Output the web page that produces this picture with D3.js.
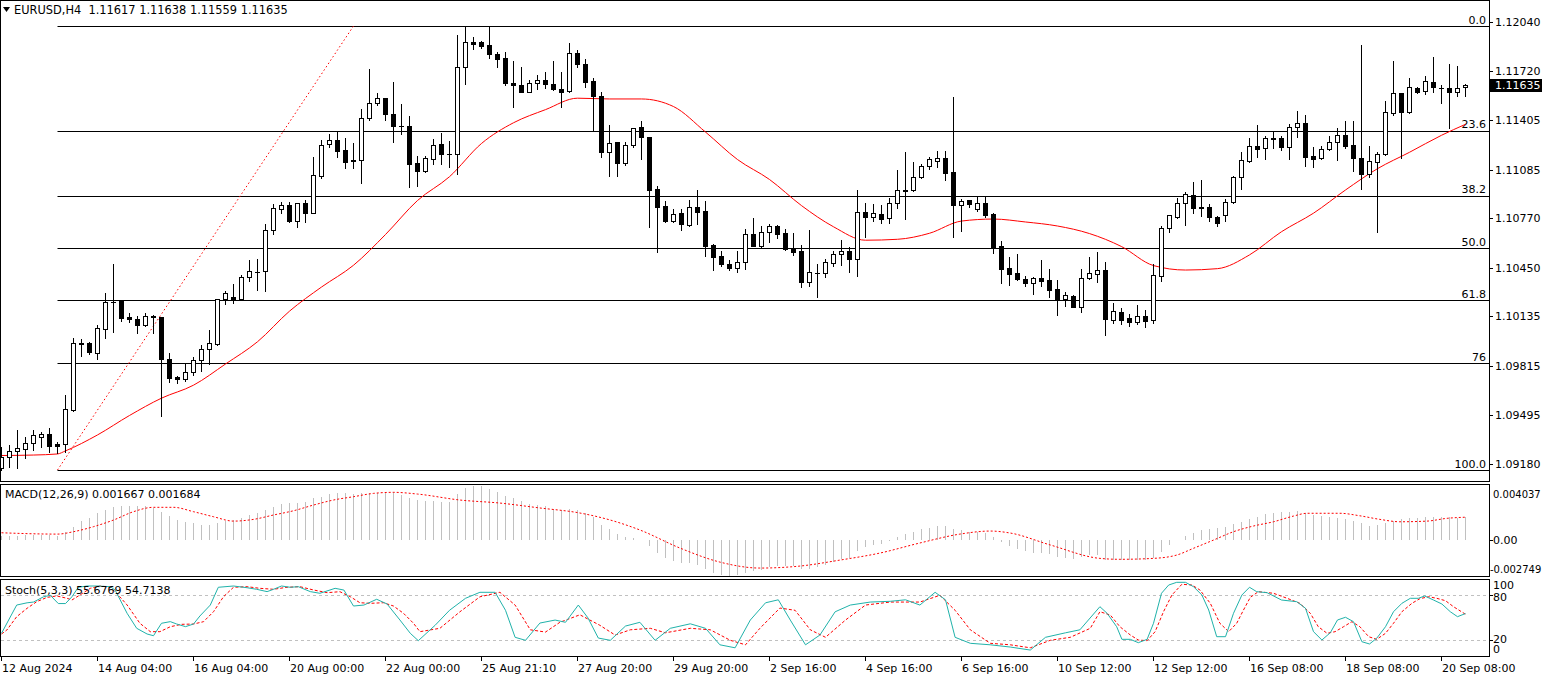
<!DOCTYPE html>
<html><head><meta charset="utf-8">
<script src="https://cdn.jsdelivr.net/npm/d3@7"></script>
<style>
body{margin:0;background:#fff;overflow:hidden;}
svg{display:block;font-family:"DejaVu Sans",sans-serif;font-size:11px;}
</style>
</head><body>
<svg id="c" width="1542" height="676"></svg>
<script>
// ---------------- DATA ----------------
const symbol = "EURUSD,H4";
const headerValues = ["1.11617", "1.11638", "1.11559", "1.11635"];

const open = [
1.09154,1.09223,1.09262,1.09279,1.09318,1.09357,1.09374,1.09309,1.09307,1.09529,
1.09961,1.09961,1.09896,1.10055,1.10230,1.10235,1.10131,1.10116,1.10081,1.10136,
1.10129,1.09857,1.09743,1.09728,1.09773,1.09851,1.09922,1.09958,1.10245,1.10258,
1.10245,1.10388,1.10424,1.10427,1.10692,1.10832,1.10854,1.10754,1.10867,1.10806,
1.11045,1.11248,1.11274,1.11212,1.11147,1.11145,1.11417,1.11514,1.11546,1.11444,
1.11367,1.11367,1.11125,1.11078,1.11155,1.11250,1.11188,1.11184,1.11747,1.11910,
1.11908,1.11891,1.11831,1.11809,1.11645,1.11630,1.11589,1.11643,1.11662,1.11637,
1.11606,1.11595,1.11837,1.11766,1.11658,1.11561,1.11201,1.11261,1.11129,1.11242,
1.11358,1.11294,1.10957,1.10847,1.10754,1.10802,1.10728,1.10841,1.10817,1.10595,
1.10526,1.10474,1.10446,1.10485,1.10666,1.10590,1.10679,1.10720,1.10673,1.10575,
1.10558,1.10359,1.10418,1.10418,1.10478,1.10537,1.10558,1.10504,1.10808,1.10780,
1.10797,1.10770,1.10867,1.10951,1.10951,1.11035,1.11110,1.11142,1.11158,1.11069,
1.10854,1.10888,1.10830,1.10867,1.10797,1.10590,1.10446,1.10416,1.10375,1.10349,
1.10381,1.10369,1.10310,1.10249,1.10267,1.10198,1.10385,1.10411,1.10433,1.10110,
1.10163,1.10125,1.10099,1.10138,1.10112,1.10398,1.10705,1.10780,1.10867,1.10918,
1.10841,1.10841,1.10776,1.10789,1.10873,1.11035,1.11142,1.11237,1.11223,1.11287,
1.11287,1.11233,1.11358,1.11384,1.11173,1.11158,1.11218,1.11261,1.11309,1.11244,
1.11158,1.11054,1.11136,1.11186,1.11451,1.11578,1.11459,1.11611,1.11593,1.11650,
1.11615,1.11615,1.11585,1.11617];
const high = [
1.09290,1.09301,1.09400,1.09353,1.09400,1.09389,1.09411,1.09324,1.09626,1.09993,
1.09987,1.09971,1.10079,1.10284,1.10474,1.10241,1.10155,1.10138,1.10155,1.10144,
1.10133,1.09896,1.09749,1.09831,1.09874,1.09950,1.10047,1.10245,1.10299,1.10345,
1.10403,1.10500,1.10504,1.10733,1.10862,1.10873,1.10873,1.10867,1.10888,1.11166,
1.11274,1.11315,1.11333,1.11287,1.11257,1.11475,1.11734,1.11578,1.11550,1.11653,
1.11507,1.11433,1.11173,1.11175,1.11283,1.11320,1.11270,1.11956,1.12012,1.11941,
1.11919,1.12012,1.11848,1.11844,1.11787,1.11749,1.11664,1.11697,1.11718,1.11787,
1.11714,1.11902,1.11859,1.11800,1.11675,1.11589,1.11373,1.11261,1.11261,1.11356,
1.11399,1.11294,1.10981,1.10882,1.10830,1.10830,1.10888,1.10953,1.10882,1.10601,
1.10558,1.10500,1.10558,1.10698,1.10770,1.10720,1.10733,1.10728,1.10702,1.10673,
1.10597,1.10694,1.10474,1.10506,1.10558,1.10629,1.10586,1.10953,1.10871,1.10862,
1.10856,1.10899,1.11082,1.11197,1.11132,1.11121,1.11168,1.11205,1.11205,1.11556,
1.10895,1.10888,1.10905,1.10909,1.10806,1.10623,1.10517,1.10539,1.10396,1.10388,
1.10500,1.10442,1.10370,1.10293,1.10273,1.10440,1.10517,1.10550,1.10485,1.10220,
1.10189,1.10150,1.10209,1.10176,1.10474,1.10720,1.10789,1.10903,1.10938,1.11006,
1.11017,1.10862,1.10785,1.10895,1.11043,1.11199,1.11289,1.11375,1.11302,1.11328,
1.11302,1.11380,1.11464,1.11438,1.11231,1.11237,1.11302,1.11352,1.11399,1.11399,
1.11891,1.11237,1.11197,1.11529,1.11787,1.11578,1.11679,1.11621,1.11692,1.11811,
1.11632,1.11766,1.11755,1.11638];
const low = [
1.09141,1.09162,1.09152,1.09217,1.09271,1.09292,1.09260,1.09249,1.09260,1.09525,
1.09879,1.09892,1.09859,1.09993,1.10036,1.10107,1.10097,1.10029,1.10073,1.10029,
1.09492,1.09712,1.09706,1.09719,1.09756,1.09784,1.09825,1.09950,1.10217,1.10224,
1.10241,1.10366,1.10306,1.10301,1.10670,1.10806,1.10746,1.10715,1.10746,1.10802,
1.11032,1.11233,1.11168,1.11097,1.11097,1.11000,1.11406,1.11503,1.11404,1.11265,
1.11317,1.10972,1.10981,1.11071,1.11123,1.11123,1.11103,1.11054,1.11637,1.11865,
1.11870,1.11809,1.11751,1.11632,1.11492,1.11585,1.11585,1.11606,1.11611,1.11600,
1.11492,1.11589,1.11751,1.11621,1.11341,1.11168,1.11045,1.11045,1.11114,1.11231,
1.11153,1.10715,1.10554,1.10744,1.10748,1.10694,1.10722,1.10733,1.10528,1.10435,
1.10463,1.10435,1.10420,1.10440,1.10592,1.10575,1.10618,1.10644,1.10565,1.10532,
1.10327,1.10334,1.10262,1.10392,1.10463,1.10467,1.10424,1.10398,1.10651,1.10754,
1.10741,1.10741,1.10838,1.10763,1.10946,1.11030,1.11089,1.11103,1.11017,1.10651,
1.10689,1.10845,1.10819,1.10780,1.10547,1.10353,1.10338,1.10370,1.10332,1.10280,
1.10332,1.10262,1.10144,1.10204,1.10194,1.10165,1.10377,1.10359,1.10015,1.10090,
1.10086,1.10073,1.10086,1.10066,1.10092,1.10364,1.10683,1.10774,1.10726,1.10806,
1.10786,1.10754,1.10720,1.10754,1.10867,1.10957,1.11134,1.11164,1.11155,1.11226,
1.11212,1.11155,1.11298,1.11110,1.11103,1.11153,1.11212,1.11147,1.11223,1.11076,
1.10959,1.11039,1.10683,1.11179,1.11438,1.11162,1.11449,1.11578,1.11572,1.11589,
1.11518,1.11356,1.11563,1.11559];
const close = [
1.09225,1.09262,1.09281,1.09314,1.09366,1.09374,1.09298,1.09298,1.09534,1.09961,
1.09958,1.09903,1.10058,1.10230,1.10227,1.10126,1.10116,1.10079,1.10136,1.10133,
1.09857,1.09738,1.09728,1.09773,1.09853,1.09922,1.09961,1.10245,1.10284,1.10245,
1.10388,1.10427,1.10422,1.10692,1.10834,1.10854,1.10754,1.10867,1.10806,1.11048,
1.11242,1.11274,1.11207,1.11136,1.11138,1.11417,1.11514,1.11546,1.11443,1.11369,
1.11364,1.11123,1.11078,1.11158,1.11244,1.11188,1.11185,1.11747,1.11908,1.11899,
1.11886,1.11831,1.11802,1.11647,1.11630,1.11589,1.11643,1.11662,1.11637,1.11604,
1.11589,1.11837,1.11766,1.11653,1.11561,1.11201,1.11255,1.11129,1.11244,1.11352,
1.11294,1.10955,1.10845,1.10754,1.10796,1.10733,1.10841,1.10812,1.10592,1.10521,
1.10476,1.10446,1.10485,1.10666,1.10592,1.10679,1.10720,1.10668,1.10571,1.10554,
1.10359,1.10420,1.10415,1.10485,1.10537,1.10558,1.10504,1.10808,1.10780,1.10802,
1.10767,1.10867,1.10951,1.10948,1.11035,1.11108,1.11151,1.11158,1.11065,1.10856,
1.10882,1.10860,1.10867,1.10791,1.10586,1.10442,1.10411,1.10377,1.10353,1.10381,
1.10366,1.10306,1.10249,1.10273,1.10198,1.10381,1.10414,1.10433,1.10120,1.10172,
1.10112,1.10099,1.10138,1.10105,1.10403,1.10705,1.10789,1.10867,1.10925,1.10838,
1.10838,1.10776,1.10741,1.10873,1.11035,1.11145,1.11237,1.11220,1.11287,1.11284,
1.11233,1.11358,1.11384,1.11168,1.11155,1.11216,1.11261,1.11309,1.11239,1.11158,
1.11054,1.11140,1.11186,1.11455,1.11578,1.11459,1.11617,1.11589,1.11658,1.11621,
1.11612,1.11585,1.11615,1.11635];

// moving average (red) read at bar indices
const maIdx = [0,4,7,8,12,16,20,24,28,32,36,40,44,48,52,56,60,64,68,72,76,80,84,88,92,96,100,104,108,112,116,120,124,128,132,136,140,144,148,152,156,160,164,168,172,176,180,183];
const maVal = [1.09235,1.09238,1.09245,1.09265,1.09368,1.09494,1.09606,1.09690,1.09827,1.09971,1.10169,1.10325,1.10466,1.10665,1.10885,1.11039,1.11254,1.11388,1.11473,1.11547,1.11542,1.11542,1.11493,1.11328,1.11150,1.11021,1.10852,1.10715,1.10628,1.10634,1.10673,1.10752,1.10765,1.10746,1.10720,1.10671,1.10587,1.10464,1.10435,1.10444,1.10533,1.10683,1.10803,1.10953,1.11091,1.11197,1.11307,1.11378];

// MACD(12,26,9) main histogram, one per bar
const macdHist = [
0.00030,0.00030,0.00030,0.00032,0.00034,0.00034,0.00032,0.00030,0.00059,0.00097,
0.00142,0.00164,0.00197,0.00222,0.00247,0.00253,0.00253,0.00253,0.00253,0.00235,
0.00210,0.00177,0.00147,0.00134,0.00122,0.00109,0.00109,0.00122,0.00139,0.00147,
0.00160,0.00185,0.00197,0.00222,0.00247,0.00268,0.00278,0.00278,0.00285,0.00311,
0.00323,0.00343,0.00348,0.00348,0.00343,0.00348,0.00348,0.00353,0.00360,0.00360,
0.00336,0.00311,0.00298,0.00290,0.00290,0.00280,0.00280,0.00340,0.00390,0.00404,
0.00400,0.00380,0.00360,0.00330,0.00310,0.00290,0.00270,0.00260,0.00250,0.00230,
0.00220,0.00230,0.00220,0.00200,0.00170,0.00110,0.00080,0.00040,0.00020,0.00010,
0.00000,-0.00050,-0.00100,-0.00140,-0.00160,-0.00180,-0.00180,-0.00190,-0.00220,-0.00250,
-0.00270,-0.00275,-0.00270,-0.00250,-0.00240,-0.00230,-0.00210,-0.00200,-0.00200,-0.00200,
-0.00220,-0.00220,-0.00210,-0.00190,-0.00170,-0.00150,-0.00140,-0.00090,-0.00060,-0.00040,
-0.00030,-0.00010,0.00020,0.00040,0.00060,0.00080,0.00090,0.00100,0.00100,0.00080,
0.00070,0.00060,0.00060,0.00050,0.00020,-0.00020,-0.00050,-0.00070,-0.00090,-0.00100,
-0.00100,-0.00110,-0.00130,-0.00140,-0.00150,-0.00130,-0.00120,-0.00120,-0.00155,-0.00155,
-0.00155,-0.00155,-0.00155,-0.00155,-0.00142,-0.00092,-0.00041,-0.00005,0.00026,0.00051,
0.00072,0.00077,0.00084,0.00097,0.00115,0.00134,0.00155,0.00167,0.00190,0.00202,
0.00205,0.00210,0.00215,0.00198,0.00185,0.00177,0.00172,0.00160,0.00152,0.00142,
0.00122,0.00102,0.00109,0.00122,0.00142,0.00152,0.00160,0.00164,0.00167,0.00172,
0.00172,0.00167,0.00164,0.001667];
// MACD signal line (red dotted), read at bar positions
const signalIdx = [0,7,9,11.5,14,16.5,19,21.5,24,26.5,29,31.5,34,36.5,39,41.5,44,46.5,49,52,57.3,62.3,67.3,72.3,76.1,79.8,84.8,89.8,94.8,99.8,104.8,109.8,114.8,119.8,123.6,126.1,131.1,137.3,139.8,144,146.9,149,151.5,154,156.5,159,161.5,163.2,167.3,169.8,172.3,174.8,178.2,180.7,183];
const signalVal = [0.00051,0.00041,0.00059,0.00097,0.00147,0.0021,0.00243,0.00243,0.0021,0.00172,0.00139,0.00152,0.00185,0.00217,0.0026,0.00298,0.00323,0.00348,0.00356,0.00343,0.00298,0.00275,0.00238,0.002,0.00147,0.00072,-0.00064,-0.0017,-0.00215,-0.002,-0.00155,-0.00102,-0.00026,0.00041,0.00064,0.00049,-0.00041,-0.00142,-0.00149,-0.00142,-0.00117,-0.00066,-0.00004,0.00059,0.00102,0.00134,0.00177,0.00198,0.00198,0.00179,0.00152,0.00134,0.00139,0.0016,0.001684];

// Stochastic(5,3,3)
const stochKIdx = [0,1.9,3.2,4,5.25,6.1,7.1,8,8.8,9.6,10.7,11.9,13.6,14.2,15.7,16.9,18.2,19,20,21.1,21.9,23,24,24.8,26.1,27.1,29,30.7,31.9,33.2,34,35,36.1,37.1,38.6,39.8,41.7,42.8,44,45.3,46.9,48.2,49.8,51.1,52.1,
54.2,56,58,59.8,61.7,63,64.2,65.5,67.3,69.2,70.5,72.1,73.3,74.6,76.1,78,79.8,81.7,83.6,86.1,88,89.8,91.7,93.6,95.5,97.1,98.6,100.5,102.3,104.2,106.1,108.6,111.1,113,114.8,116.7,118,119.2,121.1,123.6,126.1,128.6,130.5,133,134.8,
137.3,138.2,139.4,140.05,141.1,142.1,143.2,144,145,145.9,146.9,148,149,150.05,150.9,151.9,153,154,155.05,156,156.9,158.2,160,161.9,163,164,165.05,166.1,167,168,169,170.05,171,171.9,173,174,175.05,176.1,177.1,177.9,179,180.05,181.1,182,183];
const stochK = [29.3,67,70,71,78,80,69,69,78,90.7,92.4,92.4,91.5,87,56,36,28.4,26.1,42.7,44.9,41.7,38.2,41.7,52.4,67,90.7,92.4,90.1,88,84.9,88,92.4,90.7,91.5,84.9,82.7,89.3,87,65.7,67,74.7,68.4,47.1,29.3,19.5,
40,60,76,84,84,60,24,20,43,47,44,67,50,23,20,39,44,20,36,42,36,14,10,47,70,74,47,14,27,58,67,71,72,74,67,84,74,24,16,14,11,7,24,30,34,
64.8,56,38.1,21.3,21.3,16.8,21.3,42.7,82.7,93.7,97.3,97.3,91.5,80.4,60.4,24.8,24.8,56,80.4,90.7,84.8,83.5,73.7,71.5,62.7,31.5,20.4,30.1,47.1,50.7,44.8,18.1,15.1,22.7,38.1,58.1,69.3,76,76,79.1,73.7,68.4,58.1,51.5,55.68];
const stochDIdx = [0,0.67,1.9,3.2,4.4,5.7,6.9,8.2,8.8,9.8,11.1,12.3,13.6,14.4,15.7,17.3,18.6,19.8,21.1,22.5,24,25.25,26.5,27.75,29,30.7,32.3,34,35.7,37.3,39,40.7,42.3,43.6,44.8,46.1,47.75,49,50.25,51.5,52.3,
54.8,57.3,59.8,62.3,64.2,66.1,68,69.8,72.3,74.8,76.7,78.6,81.1,83,86.1,88.6,91.1,93,94.8,97.3,99.2,101.1,103,105.5,108,111.1,114.8,117.3,119.2,121.1,123.6,126.1,128.6,131.1,133.6,136.1,
137.3,138.6,139.8,141.1,142.1,143.2,144.2,145.25,146.3,147.55,148.8,149.8,151.1,152.3,153.4,154.4,155.25,156.1,157.1,159,160.7,162.3,163.6,164.6,165.7,166.7,167.75,168.8,169.8,170.9,171.9,173,174,175.05,176.3,177.3,178.4,179.4,180.5,181.5,183];
const stochD = [28.4,33.7,51.5,62.7,71.5,77.3,79.1,76,73.7,80.4,89.3,92.4,90.7,82.7,67.1,42.7,31.5,31.5,38.1,41.3,41.7,44.8,58.1,78.1,90.7,91.5,89.3,88,90.7,91.5,87.1,83.5,84.8,78.1,70.1,69.3,70.1,65.7,56,42.7,31.5,
36,58,78,84,67,34,31,44,54,40,27,34,36,30,36,34,20,14,36,63,60,34,24,47,67,71,71,80,60,34,16,14,10,20,24,36,
58.1,53.7,38.1,27.1,20.4,19.5,31.5,58.1,80.4,94.7,93.7,87.1,69.3,42.7,31.5,42.7,60.4,77.3,84.8,82.7,76,69.3,56,38.1,29.3,31.5,38.1,44.8,38.1,24.8,21.3,29.3,42.7,58.1,69.3,75.5,78.1,76,72.8,64.8,54.71];

// axes
const priceTicks = [1.12040,1.11720,1.11405,1.11085,1.10770,1.10450,1.10135,1.09815,1.09495,1.09180];
const lastPrice = 1.11635;
const fibLevels = [0, 23.6, 38.2, 50, 61.8, 76, 100];
const fibLabels = ["0.0","23.6","38.2","50.0","61.8","76","100.0"];
const fibHigh = 1.12014, fibLow = 1.09141, fibStartIdx = 7, fibEndIdx = 44;
const xLabelIdx = [0,12,24,36,48,60,72,84,96,108,120,132,144,156,168,180];
const xLabels = ["12 Aug 2024","14 Aug 04:00","16 Aug 04:00","20 Aug 00:00","22 Aug 00:00","25 Aug 21:10","27 Aug 20:00","29 Aug 20:00","2 Sep 16:00","4 Sep 16:00","6 Sep 16:00","10 Sep 12:00","12 Sep 12:00","16 Sep 08:00","18 Sep 08:00","20 Sep 08:00"];
const macdMax = 0.004037, macdMin = -0.002749;
const macdAxisLabels = ["0.004037","0.00","-0.002749"];
const stochLevels = [80, 20];
const stochAxisLabels = ["100","80","20","0"];

// ---------------- DRAW ----------------
const svg = d3.select("#c");
const AX = 1489;
const x = d3.scaleLinear().domain([0, 183]).range([1.5, 1465.5]);
const y = d3.scaleLinear().domain([1.09180, 1.12040]).range([464, 22]);
const yM = d3.scaleLinear().domain([macdMin, macdMax]).range([576, 486]);
const yS = d3.scaleLinear().domain([0, 100]).range([655.3, 580.3]);
const snap = v => Math.round(v) + 0.5;

const defs = svg.append("defs");
defs.append("clipPath").attr("id","cm").append("rect").attr("x",1).attr("y",1).attr("width",AX-1).attr("height",480);
defs.append("clipPath").attr("id","cd").append("rect").attr("x",1).attr("y",485).attr("width",AX-1).attr("height",91);
defs.append("clipPath").attr("id","cs").append("rect").attr("x",1).attr("y",580).attr("width",AX-1).attr("height",76);

// ---- main panel
const gm = svg.append("g").attr("clip-path","url(#cm)");
const fibY = l => y(fibHigh - (fibHigh - fibLow) * l / 100);
gm.selectAll("line.fib").data(fibLevels).enter().append("line")
  .attr("x1", x(fibStartIdx)).attr("x2", AX).attr("y1", d => snap(fibY(d))).attr("y2", d => snap(fibY(d)))
  .attr("stroke","#000").attr("stroke-width",1);
gm.append("line").attr("x1", x(fibStartIdx)).attr("y1", y(fibLow)).attr("x2", x(fibEndIdx)).attr("y2", y(fibHigh))
  .attr("stroke","#ff0000").attr("stroke-width",1).attr("stroke-dasharray","1.5,2.5");
gm.selectAll("text.fib").data(fibLevels).enter().append("text")
  .attr("x", 1486).attr("y", d => fibY(d) - 2.5).attr("text-anchor","end").attr("fill","#000")
  .text((d,i) => fibLabels[i]);

const maPts = maIdx.map((d,i) => [d, maVal[i]]);
gm.append("path").attr("d", d3.line().x(d => x(d[0])).y(d => y(d[1])).curve(d3.curveMonotoneX)(maPts))
  .attr("fill","none").attr("stroke","#ff0000").attr("stroke-width",1);

const idx = d3.range(open.length);
const cg = gm.append("g").attr("shape-rendering","crispEdges");
idx.forEach(i => {
  const cx = x(i);
  const yo = y(open[i]), yc = y(close[i]);
  const top = Math.round(Math.min(yo, yc)), bot = Math.round(Math.max(yo, yc));
  cg.append("line").attr("x1",cx).attr("x2",cx).attr("y1",Math.round(y(high[i]))).attr("y2",Math.round(y(low[i]))+1)
    .attr("stroke","#000");
  if (bot - top < 1) {
    cg.append("line").attr("x1",cx-2.5).attr("x2",cx+2.5).attr("y1",top+0.5).attr("y2",top+0.5).attr("stroke","#000");
  } else {
    cg.append("rect").attr("x",cx-2).attr("y",top+0.5).attr("width",4).attr("height",bot-top)
      .attr("fill", close[i] >= open[i] ? "#fff" : "#000").attr("stroke","#000");
  }
});

// ---- MACD panel
const gd = svg.append("g").attr("clip-path","url(#cd)");
gd.append("g").attr("shape-rendering","crispEdges").selectAll("line").data(idx).enter().append("line")
  .attr("x1", i => x(i)).attr("x2", i => x(i)).attr("y1", yM(0)).attr("y2", i => yM(macdHist[i]))
  .attr("stroke","#c0c0c0").attr("stroke-width",1);
const sigPts = signalIdx.map((d,i) => [d, signalVal[i]]);
gd.append("path").attr("d", d3.line().x(d => x(d[0])).y(d => yM(d[1])).curve(d3.curveMonotoneX)(sigPts))
  .attr("fill","none").attr("stroke","#ff0000").attr("stroke-width",1).attr("stroke-dasharray","2,2");

// ---- Stochastic panel
const gs = svg.append("g").attr("clip-path","url(#cs)");
gs.selectAll("line.lv").data(stochLevels).enter().append("line")
  .attr("x1",1).attr("x2",AX).attr("y1", d => snap(yS(d))).attr("y2", d => snap(yS(d)))
  .attr("stroke","#c0c0c0").attr("stroke-dasharray","3,3");
const kPts = stochKIdx.map((d,i) => [d, stochK[i]]);
const dPts = stochDIdx.map((d,i) => [d, stochD[i]]);
gs.append("path").attr("d", d3.line().x(d => x(d[0])).y(d => yS(d[1]))(dPts))
  .attr("fill","none").attr("stroke","#ff0000").attr("stroke-width",1).attr("stroke-dasharray","3,2");
gs.append("path").attr("d", d3.line().x(d => x(d[0])).y(d => yS(d[1]))(kPts))
  .attr("fill","none").attr("stroke","#20b2aa").attr("stroke-width",1);

// ---- panel borders
const borders = [[0.5,0.5,481.5],[0.5,484.5,576.5],[0.5,579.5,656.5]];
svg.append("g").attr("shape-rendering","crispEdges").selectAll("rect").data(borders).enter().append("rect")
  .attr("x", d => d[0]).attr("y", d => d[1]).attr("width", AX - 0.5).attr("height", d => d[2]-d[1])
  .attr("fill","none").attr("stroke","#000");

// ---- price axis
const ga = svg.append("g");
ga.selectAll("line.pt").data(priceTicks).enter().append("line").attr("shape-rendering","crispEdges")
  .attr("x1",AX).attr("x2",AX+4).attr("y1", d => snap(y(d))).attr("y2", d => snap(y(d))).attr("stroke","#000");
ga.selectAll("text.pt").data(priceTicks).enter().append("text")
  .attr("x",1495).attr("y", d => y(d)).attr("dy","0.36em").attr("fill","#000").text(d => d.toFixed(5));
ga.append("rect").attr("x",AX+1).attr("y",Math.round(y(lastPrice))-6).attr("width",60).attr("height",13).attr("fill","#000");
ga.append("text").attr("x",1495).attr("y",y(lastPrice)).attr("dy","0.36em").attr("fill","#fff").text(lastPrice.toFixed(5));

// MACD axis (slightly smaller so the long values fit the narrow scale)
const macdLabY = [494, 540.5, 569.5];
const macdLabX = [1493, 1493, 1490];
const macdLabFs = ["10px", "11px", "10px"];
ga.selectAll("text.md").data(macdAxisLabels).enter().append("text")
  .attr("x",(d,i) => macdLabX[i]).attr("y",(d,i) => macdLabY[i]).attr("dy","0.36em").attr("fill","#000")
  .attr("font-size",(d,i) => macdLabFs[i]).text(d => d);
ga.append("line").attr("shape-rendering","crispEdges").attr("x1",AX).attr("x2",AX+4).attr("y1",snap(yM(0))).attr("y2",snap(yM(0))).attr("stroke","#000");

// Stoch axis
const stLabY = [585, 597, 639, 649];
ga.selectAll("text.st").data(stochAxisLabels).enter().append("text")
  .attr("x",1493).attr("y",(d,i) => stLabY[i]).attr("dy","0.36em").attr("fill","#000").text(d => d);
ga.selectAll("line.st").data(stochLevels).enter().append("line").attr("shape-rendering","crispEdges")
  .attr("x1",AX).attr("x2",AX+4).attr("y1", d => snap(yS(d))).attr("y2", d => snap(yS(d))).attr("stroke","#000");

// ---- time axis
const gt = svg.append("g");
gt.selectAll("line").data(xLabelIdx).enter().append("line").attr("shape-rendering","crispEdges")
  .attr("x1", d => x(d)).attr("x2", d => x(d)).attr("y1",656).attr("y2",661).attr("stroke","#000");
gt.selectAll("text").data(xLabelIdx).enter().append("text")
  .attr("x", d => x(d) + 0.5).attr("y", 671.5).attr("fill","#000").text((d,i) => xLabels[i]);

// ---- headers
svg.append("path").attr("d","M3,7 L10,7 L6.5,12 Z").attr("fill","#000");
svg.append("text").attr("x",14).attr("y",14).attr("fill","#000").attr("font-size","11.4px")
  .text(symbol + "\u00a0\u00a0" + headerValues.join(" "));
svg.append("text").attr("x",5).attr("y",498).attr("fill","#000")
  .text("MACD(12,26,9) " + macdHist[macdHist.length-1].toFixed(6) + " " + signalVal[signalVal.length-1].toFixed(6));
svg.append("text").attr("x",5).attr("y",594).attr("fill","#000")
  .text("Stoch(5,3,3) 55.6769 54.7138");
</script>
</body></html>
